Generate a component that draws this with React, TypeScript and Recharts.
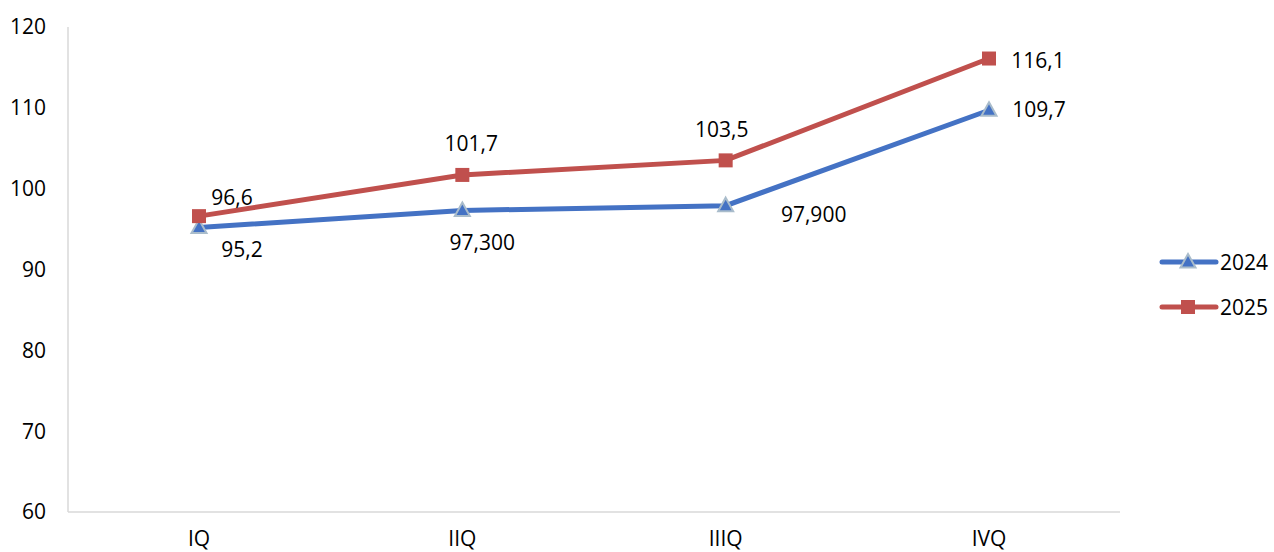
import { LineChart, Line, XAxis, YAxis, LabelList } from 'recharts';

const quarters = ['IQ', 'IIQ', 'IIIQ', 'IVQ'];
const values2024 = [95.2, 97.3, 97.9, 109.7];
const values2025 = [96.6, 101.7, 103.5, 116.1];
const labels2024 = ['95,2', '97,300', '97,900', '109,7'];
const labels2025 = ['96,6', '101,7', '103,5', '116,1'];
const yTicks = [60, 70, 80, 90, 100, 110, 120];

// label offsets from each point (label centre)
const offsets2024 = [[43, 22], [20, 32], [88, 8], [50, -1]];
const offsets2025 = [[33, -19], [9, -32], [-4, -31], [49, 1]];

const BLUE = '#4472C4';
const RED = '#C0504D';
const FONT = '"Open Sans", sans-serif';

const data = quarters.map((q, i) => ({ q, y2024: values2024[i], y2025: values2025[i] }));

const Triangle = ({ cx, cy }: any) => (
  <path
    d={`M${cx},${cy - 8} L${cx + 7.5},${cy + 5.5} L${cx - 7.5},${cy + 5.5} Z`}
    fill={BLUE}
    stroke="#A9BCCB"
    strokeWidth={2}
  />
);

const Square = ({ cx, cy }: any) => (
  <rect x={cx - 7} y={cy - 7} width={14} height={14} fill={RED} />
);

const makeLabel = (texts: string[], offs: number[][]) => (props: any) => {
  const { x, y, index } = props;
  const [dx, dy] = offs[index];
  return (
    <text
      x={x + dx}
      y={y + dy}
      textAnchor="middle"
      dominantBaseline="central"
      fontFamily={FONT}
      fontSize={21}
      fill="#000"
    >
      {texts[index]}
    </text>
  );
};

export default function App() {
  return (
    <div style={{ position: 'relative', width: 1274, height: 552, background: '#fff' }}>
      <style>{`body{margin:0}`}</style>
      <LineChart
        width={1274}
        height={552}
        data={data}
        margin={{ top: 27, right: 154, bottom: 0, left: 0 }}
      >
        <XAxis
          dataKey="q"
          padding={{ left: 131, right: 131 }}
          stroke="#D9D9D9"
          strokeWidth={1.5}
          tickLine={false}
          tickSize={0}
          tickMargin={19}
          height={40}
          tick={{ fill: '#000', fontSize: 21, fontFamily: FONT }}
        />
        <YAxis
          domain={[60, 120]}
          ticks={yTicks}
          stroke="#D9D9D9"
          strokeWidth={1.5}
          tickLine={false}
          tickSize={0}
          tickMargin={22}
          width={68}
          tick={{ fill: '#000', fontSize: 21, fontFamily: FONT }}
        />
        <Line
          dataKey="y2024"
          stroke={BLUE}
          strokeWidth={5}
          dot={<Triangle />}
          activeDot={false}
          isAnimationActive={false}
        >
          <LabelList content={makeLabel(labels2024, offsets2024)} />
        </Line>
        <Line
          dataKey="y2025"
          stroke={RED}
          strokeWidth={5}
          dot={<Square />}
          activeDot={false}
          isAnimationActive={false}
        >
          <LabelList content={makeLabel(labels2025, offsets2025)} />
        </Line>
      </LineChart>
      <svg
        width={120}
        height={80}
        style={{ position: 'absolute', left: 1154, top: 240 }}
      >
        <line x1={8} y1={22} x2={62} y2={22} stroke={BLUE} strokeWidth={5} strokeLinecap="round" />
        <Triangle cx={34} cy={22} />
        <text x={66} y={22} dominantBaseline="central" fontFamily={FONT} fontSize={21} fill="#000">2024</text>
        <line x1={8} y1={67} x2={62} y2={67} stroke={RED} strokeWidth={5} strokeLinecap="round" />
        <Square cx={34} cy={67} />
        <text x={66} y={67} dominantBaseline="central" fontFamily={FONT} fontSize={21} fill="#000">2025</text>
      </svg>
    </div>
  );
}
